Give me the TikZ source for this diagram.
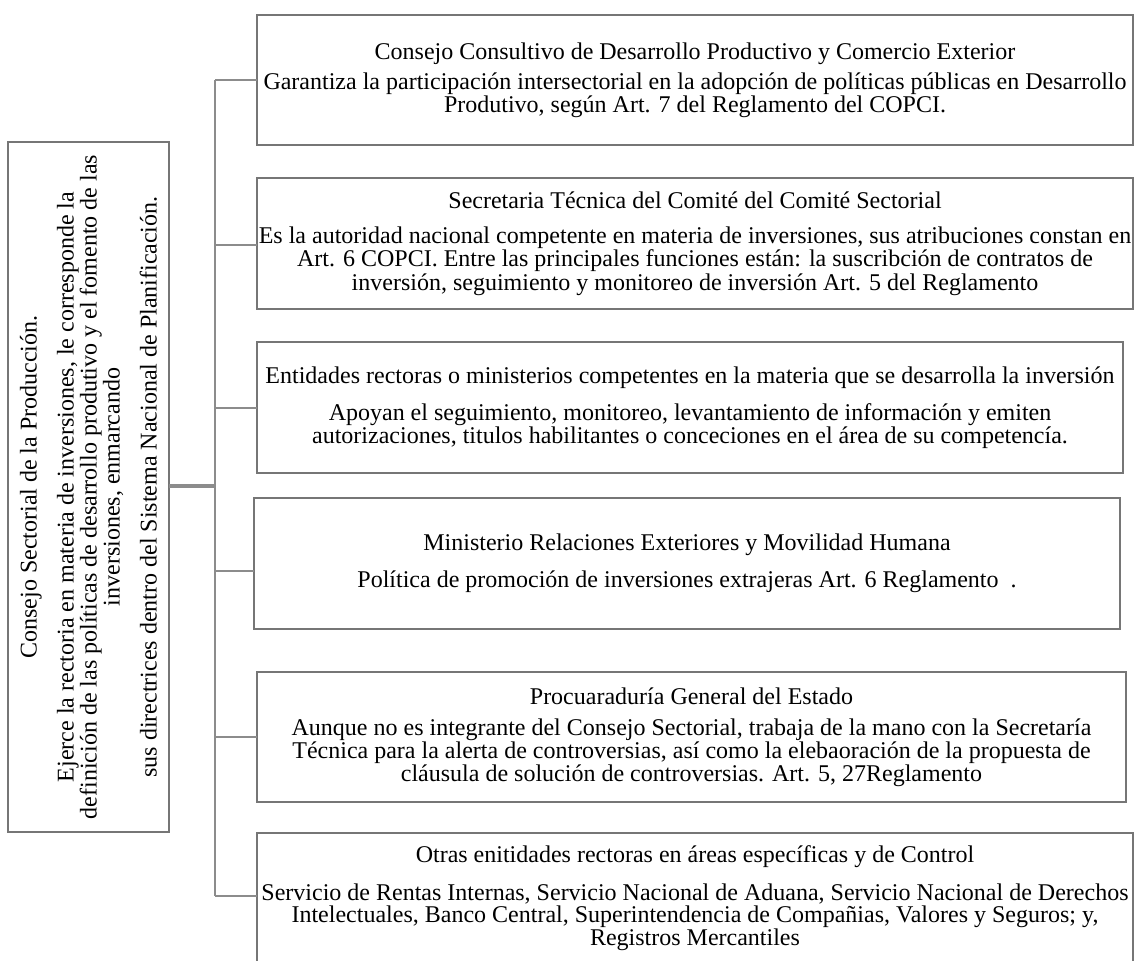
\documentclass[tikz,border=0pt]{standalone}
\usepackage{fontspec}
\setmainfont{Liberation Serif}
\definecolor{boxline}{HTML}{767676}
\definecolor{conn}{HTML}{8C8C8C}
\begin{document}
\begin{tikzpicture}[x=0.75pt,y=-0.75pt,
  txt/.style={inner sep=0pt,align=center,font=\fontsize{18}{16.3}\selectfont},
  infobox/.style={draw=boxline,line width=0.9pt,inner sep=0pt,outer sep=0pt},
  link/.style={draw=conn,line width=2pt},
  trunk/.style={draw=conn,line width=3.5pt}]
\useasboundingbox (0,0) rectangle (1134,960);
% left box
\node[infobox,minimum width=120.75pt,minimum height=517.5pt] (L) at (88.5,487) {};
\node[txt,rotate=90,font=\fontsize{18}{17.25}\selectfont] (Lt) at (L.center)
 {Consejo Sectorial de la Producción.\\[10.5pt]
  Ejerce la rectoria en materia de inversiones, le corresponde la\\
  definición de las políticas de desarrollo produtivo y el fomento de las\\
  inversiones, enmarcando\\[10.5pt]
  sus directrices dentro del Sistema Nacional de Planificación.};
% right boxes
\node[infobox,minimum width=657pt,minimum height=97.5pt] (b1) at (695,80) {};
\node[txt] (b1t) at (b1.center)
 {Consejo Consultivo de Desarrollo Productivo y Comercio Exterior\\[5pt]
  Garantiza la participación intersectorial en la adopción de políticas públicas en Desarrollo\\
  Produtivo, según Art. 7 del Reglamento del COPCI.};
\node[infobox,minimum width=657pt,minimum height=98.25pt] (b2) at (695,243.5) {};
\node[txt] (b2t) at (b2.center)
 {Secretaria Técnica del Comité del Comité Sectorial\\[10pt]
  Es la autoridad nacional competente en materia de inversiones, sus atribuciones constan en\\
  Art. 6 COPCI. Entre las principales funciones están: la suscribción de contratos de\\
  inversión, seguimiento y monitoreo de inversión Art. 5 del Reglamento};
\node[infobox,minimum width=649.5pt,minimum height=98.25pt] (b3) at (690,407.5) {};
\node[txt] (b3t) at (b3.center)
 {Entidades rectoras o ministerios competentes en la materia que se desarrolla la inversión\\[10pt]
  Apoyan el seguimiento, monitoreo, levantamiento de información y emiten\\
  autorizaciones, titulos habilitantes o conceciones en el área de su competencía.};
\node[infobox,minimum width=649.5pt,minimum height=98.25pt] (b4) at (687,563.5) {};
\node[txt] (b4t) at (b4.center)
 {Ministerio Relaciones Exteriores y Movilidad Humana\\[10pt]
  Política de promoción de inversiones extrajeras Art. 6 Reglamento\ \ .};
\node[infobox,minimum width=651.75pt,minimum height=97.5pt] (b5) at (691.5,737) {};
\node[txt] (b5t) at (b5.center)
 {Procuaraduría General del Estado\\[7pt]
  Aunque no es integrante del Consejo Sectorial, trabaja de la mano con la Secretaría\\
  Técnica para la alerta de controversias, así como la elebaoración de la propuesta de\\
  cláusula de solución de controversias. Art. 5, 27Reglamento};
\node[infobox,minimum width=657pt,minimum height=97.5pt] (b6) at (695,898) {};
\node[txt] (b6t) at (b6.center)
 {Otras enitidades rectoras en áreas específicas y de Control\\[11pt]
  Servicio de Rentas Internas, Servicio Nacional de Aduana, Servicio Nacional de Derechos\\
  Intelectuales, Banco Central, Superintendencia de Compañias, Valores y Seguros; y,\\
  Registros Mercantiles};
% spine
\coordinate (j1) at (215,80);
\coordinate (j2) at (215,245);
\coordinate (j3) at (215,408);
\coordinate (j4) at (215,571);
\coordinate (j5) at (215,737);
\coordinate (j6) at (215,896);
\coordinate (jL) at (215,486);
\path[link] (j1) -- (j6);
\path[link] (j1) -- (j1 -| b1.west);
\path[link] (j2) -- (j2 -| b2.west);
\path[link] (j3) -- (j3 -| b3.west);
\path[link] (j4) -- (j4 -| b4.west);
\path[link] (j5) -- (j5 -| b5.west);
\path[link] (j6) -- (j6 -| b6.west);
\path[trunk] (jL -| L.east) -- (jL);
\end{tikzpicture}
\end{document}
